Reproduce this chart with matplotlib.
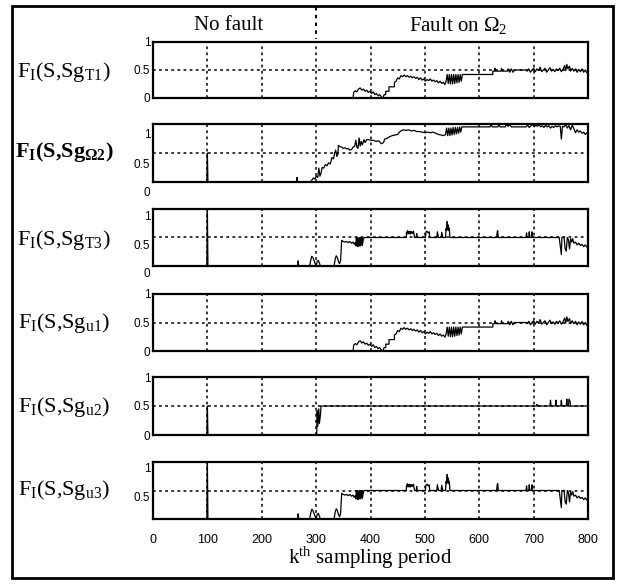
import matplotlib
matplotlib.use("Agg")
import matplotlib.pyplot as plt
from matplotlib.transforms import ScaledTranslation
from matplotlib.lines import Line2D
from matplotlib.patches import Rectangle

plt.rcParams['mathtext.fontset'] = 'custom'
plt.rcParams['mathtext.rm'] = 'Liberation Serif'
plt.rcParams['mathtext.it'] = 'Liberation Serif:italic'
plt.rcParams['mathtext.bf'] = 'Liberation Serif:bold'

# ---------------- data ----------------
x_ticks = [0, 100, 200, 300, 400, 500, 600, 700, 800]
x_tick_labels = ['0', '100', '200', '300', '400', '500', '600', '700', '800']
y_ticks = [0, 0.5, 1]

# F_I(S,Sg_T1) and F_I(S,Sg_u1) (identical curves)
k_T1 = [0, 368, 369, 372, 375, 378, 381, 384, 387, 390, 393, 396, 399, 402, 405, 408, 411, 414, 417,
        420, 423, 425, 428, 428, 434, 434, 444, 444, 447, 450, 453, 456, 459, 462, 465, 468, 471,
        474, 477, 480, 483, 486, 489, 492, 495, 498, 501, 504, 507, 510, 513, 516, 519, 522, 525,
        528, 531, 534, 537, 539, 541, 543, 545, 547, 549, 551, 553, 555, 557, 559, 561, 563, 565,
        567, 569, 625, 625, 628, 629, 630, 640, 641, 642, 652, 653, 656, 659, 662, 665, 685, 688,
        691, 694, 697, 700, 703, 706, 709, 712, 715, 718, 721, 724, 727, 730, 733, 736, 739, 742,
        745, 748, 751, 754, 757, 759, 761, 763, 766, 768, 771, 774, 777, 780, 783, 786, 789, 792,
        795, 798, 800]
v_T1 = [0, 0, 0.10, 0.13, 0.11, 0.16, 0.18, 0.14, 0.16, 0.12, 0.14, 0.10, 0.12, 0.08, 0.11, 0.06, 0.08,
        0.04, 0.06, 0.02, 0.0, 0.06, 0.06, 0.12, 0.12, 0.20, 0.20, 0.28, 0.30, 0.36, 0.34, 0.40, 0.38,
        0.41, 0.38, 0.40, 0.37, 0.39, 0.36, 0.38, 0.35, 0.37, 0.33, 0.36, 0.32, 0.34, 0.30, 0.33, 0.31,
        0.34, 0.30, 0.32, 0.29, 0.31, 0.27, 0.30, 0.26, 0.28, 0.24, 0.30, 0.42, 0.26, 0.42, 0.25, 0.42,
        0.25, 0.42, 0.26, 0.42, 0.27, 0.42, 0.28, 0.42, 0.30, 0.42, 0.42, 0.48, 0.48, 0.53, 0.48, 0.48,
        0.53, 0.48, 0.48, 0.52, 0.46, 0.52, 0.46, 0.50, 0.50, 0.48, 0.52, 0.46, 0.50, 0.53, 0.47, 0.52,
        0.49, 0.55, 0.47, 0.50, 0.53, 0.46, 0.50, 0.54, 0.48, 0.51, 0.47, 0.52, 0.49, 0.53, 0.47, 0.51,
        0.58, 0.49, 0.60, 0.52, 0.57, 0.48, 0.53, 0.48, 0.52, 0.46, 0.51, 0.47, 0.52, 0.46, 0.50, 0.45,
        0.48]

# F_I(S,Sg_Omega2)
k_O2 = [0, 99, 100, 101, 264, 265, 266, 289, 292, 295, 298, 300, 303, 305, 307, 309, 311, 314, 317, 320,
        323, 326, 329, 332, 334, 336, 338, 340, 341, 344, 347, 350, 353, 356, 359, 362, 365, 368, 371,
        373, 375, 377, 379, 381, 383, 385, 388, 390, 393, 397, 400, 405, 410, 415, 420, 424, 426, 430,
        435, 440, 445, 450, 453, 456, 460, 465, 470, 475, 480, 485, 490, 495, 500, 505, 510, 515, 520,
        525, 530, 535, 538, 540, 542, 544, 546, 548, 550, 552, 554, 556, 558, 560, 562, 564, 566, 568,
        620, 622, 624, 634, 636, 638, 648, 650, 653, 656, 659, 686, 689, 692, 695, 698, 701, 704, 707,
        710, 713, 716, 719, 722, 725, 728, 731, 734, 737, 740, 743, 746, 749, 751, 753, 756, 759, 762,
        765, 768, 771, 774, 777, 780, 783, 786, 789, 792, 795, 798, 800]
v_O2 = [0, 0, 0.5, 0, 0, 0.08, 0, 0, 0.03, 0.07, 0.05, 0.10, 0.08, 0.24, 0.10, 0.15, 0.25, 0.24, 0.30,
        0.28, 0.33, 0.31, 0.42, 0.40, 0.50, 0.55, 0.44, 0.48, 0.63, 0.61, 0.60, 0.58, 0.59, 0.57, 0.58,
        0.55, 0.56, 0.60, 0.62, 0.72, 0.60, 0.58, 0.76, 0.62, 0.70, 0.64, 0.73, 0.68, 0.73, 0.73, 0.72,
        0.72, 0.70, 0.71, 0.66, 0.68, 0.74, 0.75, 0.78, 0.80, 0.81, 0.82, 0.86, 0.88, 0.90, 0.89, 0.90,
        0.88, 0.89, 0.87, 0.87, 0.86, 0.85, 0.86, 0.85, 0.86, 0.84, 0.82, 0.81, 0.80, 0.82, 0.93, 0.80,
        0.93, 0.80, 0.93, 0.81, 0.94, 0.82, 0.94, 0.83, 0.94, 0.84, 0.95, 0.86, 0.95, 0.95, 0.99, 0.95,
        0.95, 0.99, 0.95, 0.95, 0.99, 0.96, 0.99, 0.95, 0.95, 0.98, 0.94, 0.97, 0.99, 0.95, 0.98, 0.96,
        0.99, 0.95, 0.97, 0.94, 0.98, 0.95, 0.97, 0.93, 0.96, 0.94, 0.97, 0.95, 0.97, 0.96, 0.74, 0.96,
        0.95, 0.99, 0.93, 0.97, 0.90, 0.98, 0.92, 0.85, 0.90, 0.86, 0.88, 0.84, 0.86, 0.82, 0.85, 0.83]

# F_I(S,Sg_T3) and F_I(S,Sg_u3) (identical curves)
k_T3 = [0, 99, 100, 101, 266, 267, 268, 288, 290, 292, 294, 296, 298, 300, 302, 304, 306, 308, 333, 335,
        337, 339, 341, 343, 345, 347, 350, 353, 356, 359, 362, 365, 368, 370, 372, 373, 374, 375, 376,
        377, 378, 379, 380, 381, 382, 383, 384, 385, 387, 389, 466, 466, 468, 469, 470, 471, 472, 473,
        474, 475, 476, 477, 479, 481, 484, 485, 486, 501, 502, 504, 506, 508, 509, 522, 523, 525, 530,
        531, 533, 538, 539, 540, 541, 542, 543, 544, 545, 546, 632, 633, 634, 635, 686, 687, 688, 691,
        692, 693, 696, 697, 698, 747, 749, 751, 752, 756, 758, 760, 762, 764, 766, 768, 770, 772, 774,
        777, 780, 783, 786, 789, 792, 795, 798, 800]
v_T3 = [0, 0, 1.0, 0, 0, 0.09, 0, 0, 0.10, 0.17, 0.15, 0.10, 0.05, 0.0, 0.08, 0.10, 0.05, 0, 0, 0.12,
        0.18, 0.15, 0.08, 0.04, 0.10, 0.45, 0.43, 0.42, 0.43, 0.41, 0.43, 0.40, 0.42, 0.38, 0.41, 0.35,
        0.50, 0.36, 0.50, 0.34, 0.49, 0.36, 0.50, 0.35, 0.50, 0.37, 0.50, 0.36, 0.48, 0.50, 0.50, 0.58,
        0.62, 0.56, 0.60, 0.57, 0.61, 0.56, 0.60, 0.58, 0.60, 0.57, 0.61, 0.50, 0.50, 0.57, 0.50, 0.50,
        0.60, 0.61, 0.58, 0.60, 0.50, 0.50, 0.60, 0.50, 0.50, 0.59, 0.50, 0.50, 0.66, 0.62, 0.78, 0.64,
        0.72, 0.62, 0.66, 0.50, 0.50, 0.60, 0.62, 0.50, 0.50, 0.58, 0.50, 0.50, 0.60, 0.50, 0.50, 0.60,
        0.50, 0.50, 0.35, 0.20, 0.50, 0.50, 0.30, 0.26, 0.50, 0.46, 0.30, 0.48, 0.42, 0.48, 0.40, 0.42,
        0.37, 0.40, 0.36, 0.38, 0.34, 0.37, 0.33, 0.35]

# F_I(S,Sg_u2)
k_u2 = [0, 99, 100, 101, 301, 302, 303, 305, 306, 308, 309, 705, 706, 707, 730, 731, 732, 740, 741, 742,
        750, 751, 752, 760, 761, 762, 764, 765, 767, 768, 800]
v_u2 = [0, 0, 0.5, 0, 0, 0.42, 0.15, 0.45, 0.20, 0.35, 0.50, 0.50, 0.53, 0.50, 0.50, 0.60, 0.50, 0.50,
        0.60, 0.50, 0.50, 0.60, 0.50, 0.50, 0.62, 0.50, 0.50, 0.62, 0.58, 0.50, 0.50]

series_k = [k_T1, k_O2, k_T3, k_T1, k_u2, k_T3]
series_v = [v_T1, v_O2, v_T3, v_T1, v_u2, v_T3]
row_labels = [r'$\mathrm{F_I(S{,}Sg_{T1})}$', r'$\mathbf{F_I(S{,}Sg_{\Omega2})}$',
              r'$\mathrm{F_I(S{,}Sg_{T3})}$', r'$\mathrm{F_I(S{,}Sg_{u1})}$',
              r'$\mathrm{F_I(S{,}Sg_{u2})}$', r'$\mathrm{F_I(S{,}Sg_{u3})}$']

# ---------------- layout ----------------
W, H = 624, 585
fig = plt.figure(figsize=(W / 100, H / 100), dpi=100)

def fx(px):
    return px / W

def fy(py):
    return 1 - py / H

ax_left, ax_right = 153, 588
panel_px = [(42, 98), (124, 182), (209, 266), (294, 351), (377, 435), (462, 519)]
label_shift_px = [0, 10, 7, 0, 0, 6]
label_y_px = [72, 152, 240, 323, 407, 490]

grid_style = dict(color='black', linestyle=(0, (1.8, 2.2)), linewidth=1.1)

for i, (top, bot) in enumerate(panel_px):
    ax = fig.add_axes([fx(ax_left), fy(bot), fx(ax_right - ax_left), (bot - top) / H])
    ax.plot(series_k[i], series_v[i], color='black', linewidth=0.9, zorder=3)
    ax.set_xlim(0, 800)
    ax.set_ylim(0, 1)
    ax.set_xticks(x_ticks)
    ax.set_yticks(y_ticks)
    ylabels = ['0', '0.5', '1'] if i != 5 else ['', '0.5', '1']
    ax.set_yticklabels(ylabels, fontsize=8.5, family='Liberation Sans')
    if i == 5:
        ax.set_xticklabels(x_tick_labels, fontsize=9, family='Liberation Sans')
    else:
        ax.set_xticklabels([])
    ax.tick_params(axis='both', length=0, pad=2)
    ax.tick_params(axis='x', pad=11)
    for g in x_ticks[1:-1]:
        ax.axvline(g, zorder=1, **grid_style)
    ax.axhline(0.5, zorder=1, **grid_style)
    for s in ax.spines.values():
        s.set_linewidth(1.6)
        s.set_color('black')
    if label_shift_px[i]:
        off = ScaledTranslation(0, -label_shift_px[i] / 100, fig.dpi_scale_trans)
        for lab in ax.get_yticklabels():
            lab.set_transform(lab.get_transform() + off)
    fig.text(fx(64), fy(label_y_px[i]), row_labels[i], ha='center', va='center', fontsize=16)

# header texts and separator
fig.text(fx(229), fy(26), 'No fault', ha='center', va='center', fontsize=15, family='Liberation Serif')
fig.text(fx(458), fy(26), r'Fault on $\Omega_2$', ha='center', va='center', fontsize=15,
         family='Liberation Serif')
fig.add_artist(Line2D([fx(316), fx(316)], [fy(7), fy(39)], color='black',
                      linestyle=(0, (1.8, 2.2)), linewidth=1.4))

# x label
fig.text(fx(370), fy(558), r'$\mathrm{k^{th}}$ sampling period', ha='center', va='center',
         fontsize=15, family='Liberation Serif')

# outer frame
fig.add_artist(Rectangle((fx(12), fy(578)), fx(613 - 12), (578 - 6) / H, fill=False,
                         edgecolor='black', linewidth=2.0, transform=fig.transFigure))

fig.savefig('out.png', dpi=100)
